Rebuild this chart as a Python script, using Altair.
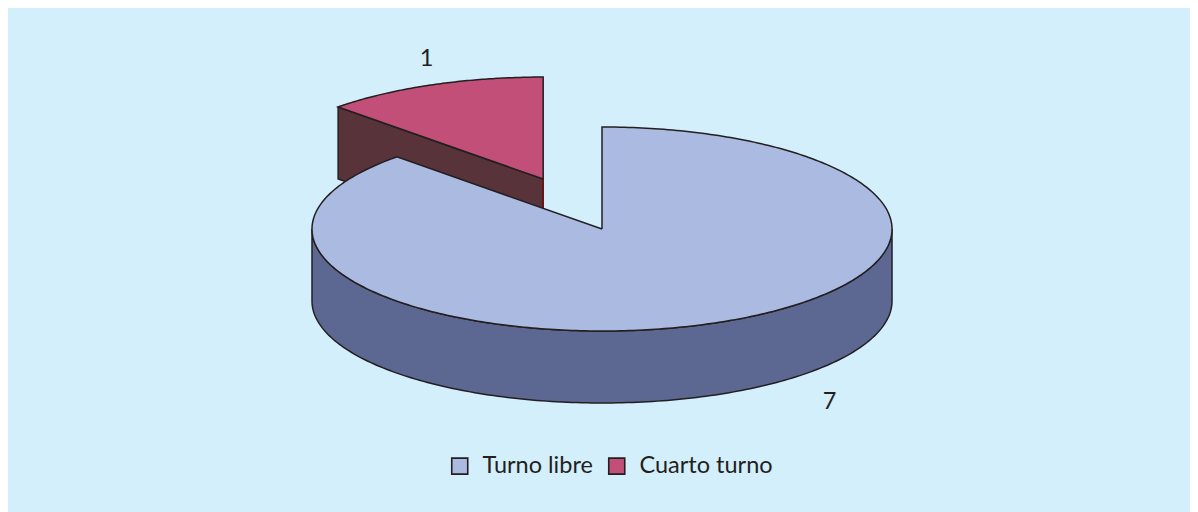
import numpy as np
import pandas as pd
import altair as alt

categories = ["Turno libre", "Cuarto turno"]
values = [7, 1]
top_colors = ["#ABBAE0", "#C14F78"]
side_colors = ["#5C6792", "#58343A"]
INK = "#231F20"
BG = "#D2EFFB"

W, H = 1182, 504
CX, CY, RX, RY = 594, 221, 290, 102   # pie placement inside the plot, in pixels
DEPTH = 72 / RY                       # thickness in radius units
EXPLODE = 0.53                        # explosion of the small slice

total = sum(values)
split = 2 * np.pi * values[0] / total          # blue runs clockwise from 12 o'clock
s, c = np.sin(split), np.cos(split)
mid = (split + 2 * np.pi) / 2
ox, oy = EXPLODE * np.sin(mid), EXPLODE * np.cos(mid)

def arc(a0, a1, n=180):
    t = np.linspace(a0, a1, n)
    return np.sin(t), np.cos(t)

def area_df(u, hi, lo):
    return pd.DataFrame({"x": u, "y": hi, "y2": lo})

def line_df(u, v):
    return pd.DataFrame({"x": u, "y": v, "i": np.arange(len(u))})

X = alt.X("x:Q", axis=None, scale=alt.Scale(domain=[-CX / RX, (W - CX) / RX], nice=False, zero=False))
Y = alt.Y("y:Q", axis=None, scale=alt.Scale(domain=[-(H - CY) / RY, CY / RY], nice=False, zero=False))
ORDER = alt.Order("i:Q")
COLOR = alt.Color(
    "cat:N",
    scale=alt.Scale(domain=categories, range=top_colors),
    legend=alt.Legend(
        title=None, orient="none", legendX=440, legendY=446, columns=2, direction="horizontal",
        symbolType="square", symbolSize=256, symbolStrokeColor=INK, symbolStrokeWidth=1.6,
        labelFont="Lato", labelFontSize=23.5, labelColor=INK, labelOffset=11,
        labelLimit=300, columnPadding=12, symbolOpacity=1,
    ),
)

def fill_layer(df, color, legend_cat=None):
    if legend_cat is None:
        return alt.Chart(df).mark_area(color=color, opacity=1, orient="vertical").encode(x=X, y=Y, y2="y2:Q")
    return (
        alt.Chart(df.assign(cat=legend_cat))
        .mark_area(opacity=1, orient="vertical")
        .encode(x=X, y=Y, y2="y2:Q", color=COLOR)
    )

def line_layer(df, color=INK, width=1.5):
    return alt.Chart(df).mark_line(color=color, strokeWidth=width, strokeJoin="miter").encode(x=X, y=Y, order=ORDER)

# Small slice, pulled out: side wall
u_chord = np.array([s, 0.0])
v_chord = np.array([c, 0.0])
red_side_fill = area_df(u_chord + ox, v_chord + oy, v_chord + oy - DEPTH)
red_side_line = line_df(
    np.array([s, 0, 0, s, s]) + ox,
    np.array([c, 0, -DEPTH, c - DEPTH, c]) + oy,
)
red_edge = line_df(np.array([0.0, 0.0]) + ox, np.array([0.0, -DEPTH]) + oy)

# Small slice: top
t = np.linspace(split, 2 * np.pi, 90)
u_r = np.sin(t)
red_top_fill = area_df(u_r + ox, np.cos(t) + oy, u_r * c / s + oy)
ax, ay = arc(split, 2 * np.pi, 90)
red_top_line = line_df(np.r_[0, ax, 0] + ox, np.r_[0, ay, 0] + oy)

# Big slice: rim
t = np.linspace(np.pi / 2, 3 * np.pi / 2, 181)
rim_u, rim_v = np.sin(t), np.cos(t)
order = np.argsort(rim_u)
blue_side_fill = area_df(rim_u[order], rim_v[order], rim_v[order] - DEPTH)
blue_side_line = line_df(np.r_[rim_u, rim_u[::-1], rim_u[0]], np.r_[rim_v, rim_v[::-1] - DEPTH, rim_v[0]])

# Big slice: top
u_all = np.sin(np.linspace(-np.pi / 2, np.pi / 2, 361))
left = u_all[u_all <= s]
mid_u = u_all[(u_all > s) & (u_all < 0)]
right = u_all[u_all >= 0]
u_b = np.r_[left, s, mid_u, 0, 0, right]
hi_b = np.r_[np.sqrt(np.clip(1 - left**2, 0, 1)), c, mid_u * c / s, 0, 1, np.sqrt(np.clip(1 - right**2, 0, 1))]
lo_b = -np.sqrt(np.clip(1 - u_b**2, 0, 1))
blue_top_fill = area_df(u_b, hi_b, lo_b)
bx, by = arc(0, split, 360)
blue_top_line = line_df(np.r_[0, bx, 0], np.r_[0, by, 0])

# Value labels, placed along each slice's mid-angle
mid_blue = split / 2
labels = pd.DataFrame({
    "x": [2.05 * np.sin(mid_blue), 1.05 * np.sin(mid) + ox],
    "y": [1.835 * np.cos(mid_blue), 1.27 * np.cos(mid) + oy],
    "t": [str(values[0]), str(values[1])],
})
text = alt.Chart(labels).mark_text(font="Lato", fontSize=23.5, color=INK).encode(x=X, y=Y, text="t:N")

chart = alt.layer(
    fill_layer(red_side_fill, side_colors[1]),
    line_layer(red_side_line),
    line_layer(red_edge, "#7A1010", 1.5),
    fill_layer(red_top_fill, top_colors[1], categories[1]),
    line_layer(red_top_line),
    fill_layer(blue_side_fill, side_colors[0]),
    line_layer(blue_side_line),
    fill_layer(blue_top_fill, top_colors[0], categories[0]),
    line_layer(blue_top_line),
    text,
).properties(
    width=W, height=H, background=BG, padding=0,
    autosize=alt.AutoSizeParams(type="none"),
).configure_view(stroke=None)

chart.save("out.html", embed_options={"renderer": "svg", "actions": False})
